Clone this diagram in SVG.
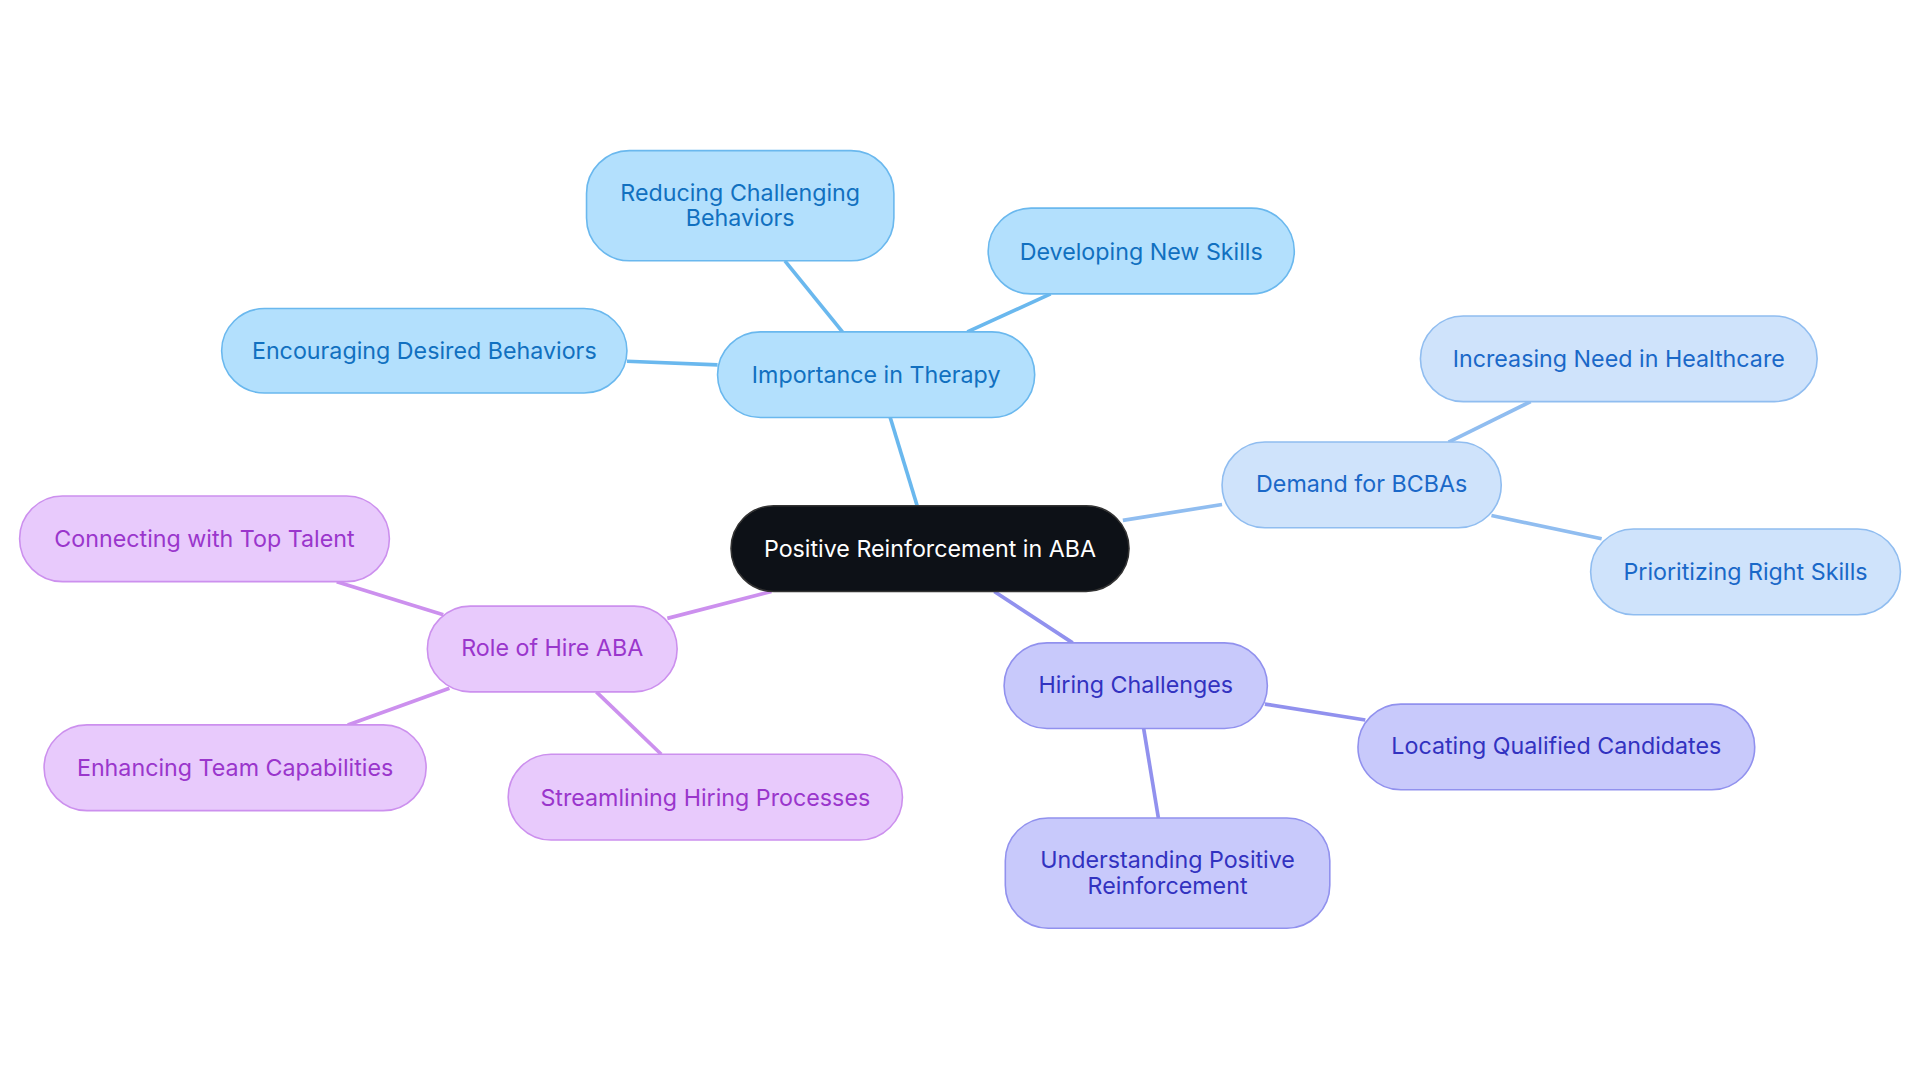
<svg xmlns="http://www.w3.org/2000/svg" width="1920" height="1083" viewBox="0 0 1920 1083">
<style>
text{font-family:Inter,"Liberation Sans",sans-serif;font-size:19px;text-anchor:middle;dominant-baseline:central}
.b rect{fill:#b3e0fd;stroke:#6ab8ee;stroke-width:1.3}.b text{fill:#1170c0}
.l rect{fill:#cfe3fb;stroke:#90bdf0;stroke-width:1.3}.l text{fill:#1a68c8}
.v rect{fill:#c8c9fb;stroke:#9191ee;stroke-width:1.3}.v text{fill:#3232c0}
.p rect{fill:#e8cafc;stroke:#cc90ee;stroke-width:1.3}.p text{fill:#9a36cc}
#edges line{stroke-width:3}
</style>
<rect width="1920" height="1083" fill="#fff"/>
<g transform="scale(1.2245)">
<g id="edges">
<line x1="749" y1="413" x2="727" y2="341" stroke="#6ab8ee"/>
<line x1="688" y1="271" x2="641" y2="213" stroke="#6ab8ee"/>
<line x1="790" y1="271" x2="858" y2="240" stroke="#6ab8ee"/>
<line x1="586" y1="298" x2="512" y2="295" stroke="#6ab8ee"/>
<line x1="917" y1="425" x2="998" y2="412" stroke="#90bdf0"/>
<line x1="1183" y1="361" x2="1250" y2="328" stroke="#90bdf0"/>
<line x1="1218" y1="421" x2="1308" y2="440" stroke="#90bdf0"/>
<line x1="812" y1="483" x2="876" y2="525" stroke="#9191ee"/>
<line x1="1033" y1="575" x2="1115" y2="588" stroke="#9191ee"/>
<line x1="934" y1="595" x2="946" y2="668" stroke="#9191ee"/>
<line x1="630" y1="483" x2="545" y2="505" stroke="#cc90ee"/>
<line x1="362" y1="502" x2="275" y2="475" stroke="#cc90ee"/>
<line x1="367" y1="562" x2="284" y2="592" stroke="#cc90ee"/>
<line x1="487" y1="565" x2="540" y2="616" stroke="#cc90ee"/>
</g>
<g id="center"><rect x="597" y="413" width="325" height="70" rx="35" fill="#0d1117" stroke="#333" stroke-width="1.3"/><text x="759.5" y="448" fill="#fff">Positive Reinforcement in ABA</text></g>
<g id="importance" class="b"><rect x="586" y="271" width="259" height="70" rx="35"/><text x="715.5" y="306">Importance in Therapy</text></g>
<g id="reducing" class="b"><rect x="479" y="123" width="251" height="90" rx="35"/><text x="604.5" y="157">Reducing Challenging</text><text x="604.5" y="178">Behaviors</text></g>
<g id="developing" class="b"><rect x="807" y="170" width="250" height="70" rx="35"/><text x="932" y="205">Developing New Skills</text></g>
<g id="encouraging" class="b"><rect x="181" y="252" width="331" height="69" rx="35"/><text x="346.5" y="286">Encouraging Desired Behaviors</text></g>
<g id="demand" class="l"><rect x="998" y="361" width="228" height="70" rx="35"/><text x="1112" y="395">Demand for BCBAs</text></g>
<g id="increasing" class="l"><rect x="1160" y="258" width="324" height="70" rx="35"/><text x="1322" y="293">Increasing Need in Healthcare</text></g>
<g id="prioritizing" class="l"><rect x="1299" y="432" width="253" height="70" rx="35"/><text x="1425.5" y="467">Prioritizing Right Skills</text></g>
<g id="hiring" class="v"><rect x="820" y="525" width="215" height="70" rx="35"/><text x="927.5" y="559">Hiring Challenges</text></g>
<g id="locating" class="v"><rect x="1109" y="575" width="324" height="70" rx="35"/><text x="1271" y="609">Locating Qualified Candidates</text></g>
<g id="understanding" class="v"><rect x="821" y="668" width="265" height="90" rx="35"/><text x="953.5" y="702">Understanding Positive</text><text x="953.5" y="723">Reinforcement</text></g>
<g id="role" class="p"><rect x="349" y="495" width="204" height="70" rx="35"/><text x="451" y="529">Role of Hire ABA</text></g>
<g id="connecting" class="p"><rect x="16" y="405" width="302" height="70" rx="35"/><text x="167" y="440">Connecting with Top Talent</text></g>
<g id="enhancing" class="p"><rect x="36" y="592" width="312" height="70" rx="35"/><text x="192" y="627">Enhancing Team Capabilities</text></g>
<g id="streamlining" class="p"><rect x="415" y="616" width="322" height="70" rx="35"/><text x="576" y="651">Streamlining Hiring Processes</text></g>
</g>
</svg>
